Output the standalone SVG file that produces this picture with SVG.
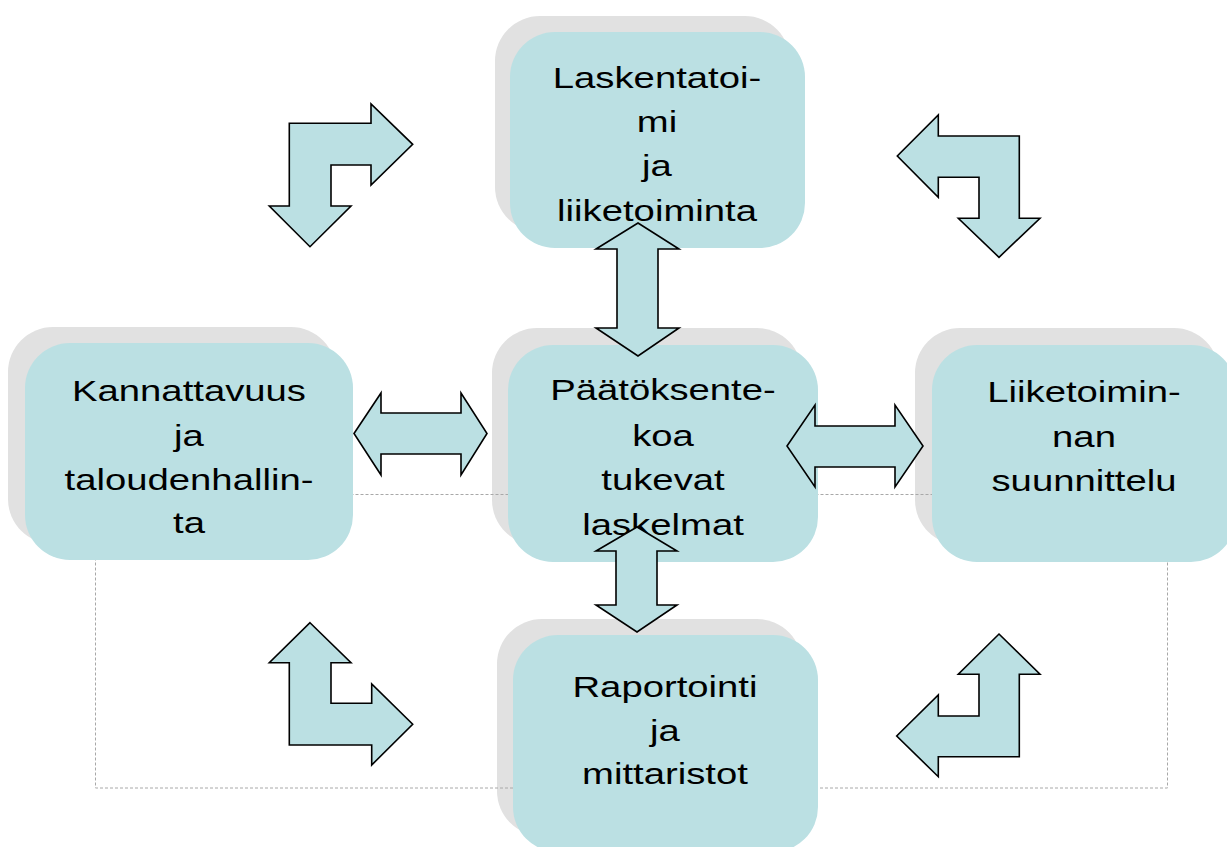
<svg xmlns="http://www.w3.org/2000/svg" width="1227" height="847" viewBox="0 0 1227 847">
  <style>
    .shadow { fill: #e1e1e1; }
    .box { fill: #bbe0e3; }
    .frame { fill: none; stroke: #a8a8a8; stroke-width: 1; stroke-dasharray: 3 2; }
    .arrow { fill: #bbe0e3; stroke: #000000; stroke-width: 1.6; stroke-linejoin: miter; }
    .label { font-family: "Liberation Sans", Arial, sans-serif; font-size: 29px; fill: #000000; text-anchor: middle; }
  </style>

  <rect width="1227" height="847" fill="#ffffff"/>

  <!-- drop shadows behind every box -->
  <g id="shadows">
    <rect class="shadow" x="495" y="16" width="295" height="216" rx="45"/>
    <rect class="shadow" x="8" y="327" width="328" height="217" rx="45"/>
    <rect class="shadow" x="492" y="328" width="310" height="217" rx="45"/>
    <rect class="shadow" x="915" y="328" width="304" height="217" rx="45"/>
    <rect class="shadow" x="497" y="619" width="305" height="217" rx="45"/>
  </g>

  <!-- dotted frame around the lower half -->
  <rect id="frame" class="frame" x="95.5" y="494.5" width="1072" height="293.5"/>

  <g id="node-laskentatoimi">
    <rect class="box" x="510" y="32" width="295" height="216" rx="45"/>
    <g class="label" transform="translate(657,0) scale(1.32,1)">
      <text x="0" y="88">Laskentatoi-</text>
      <text x="0" y="132">mi</text>
      <text x="0" y="176">ja</text>
      <text x="0" y="221">liiketoiminta</text>
    </g>
  </g>

  <g id="node-kannattavuus">
    <rect class="box" x="25" y="343" width="328" height="217" rx="45"/>
    <g class="label" transform="translate(189,0) scale(1.32,1)">
      <text x="0" y="401">Kannattavuus</text>
      <text x="0" y="446">ja</text>
      <text x="0" y="490">taloudenhallin-</text>
      <text x="0" y="533">ta</text>
    </g>
  </g>

  <g id="node-paatoksenteko">
    <rect class="box" x="508" y="345" width="310" height="217" rx="45"/>
    <g class="label" transform="translate(663,0) scale(1.32,1)">
      <text x="0" y="400">Päätöksente-</text>
      <text x="0" y="446">koa</text>
      <text x="0" y="490">tukevat</text>
      <text x="0" y="535">laskelmat</text>
    </g>
  </g>

  <g id="node-suunnittelu">
    <rect class="box" x="932" y="345" width="304" height="217" rx="45"/>
    <g class="label" transform="translate(1084,0) scale(1.32,1)">
      <text x="0" y="402">Liiketoimin-</text>
      <text x="0" y="447">nan</text>
      <text x="0" y="491">suunnittelu</text>
    </g>
  </g>

  <g id="node-raportointi">
    <rect class="box" x="513" y="635" width="305" height="217" rx="45"/>
    <g class="label" transform="translate(665,0) scale(1.32,1)">
      <text x="0" y="697">Raportointi</text>
      <text x="0" y="741">ja</text>
      <text x="0" y="784">mittaristot</text>
    </g>
  </g>

  <!-- block arrows linking the boxes -->
  <g id="connectors">
    <!-- vertical double arrow, top box to centre box -->
    <polygon class="arrow" points="638,223 679,249 658,249 658,328 679,328 638,356 596,328 617,328 617,249 596,249"/>
    <!-- vertical double arrow, centre box to bottom box -->
    <polygon class="arrow" points="637,527 677,551 657,551 657,605 677,605 637,632 596,605 616,605 616,551 596,551"/>
    <!-- horizontal double arrow, left box to centre box -->
    <polygon class="arrow" points="354,433.5 381,393 381,413 461,413 461,393 487,433.5 461,475 461,454 381,454 381,475"/>
    <!-- horizontal double arrow, centre box to right box -->
    <polygon class="arrow" points="787,446 815,405 815,426 895,426 895,405 923,446 895,487 895,467 815,467 815,487"/>
    <!-- bent arrow, upper left -->
    <polygon class="arrow" points="289.3,123.3 371,123.3 371,104 412.7,144.3 371,185 371,165 331,165 331,206 351,206 310,246.7 269.3,206 289.3,206"/>
    <!-- bent arrow, upper right -->
    <polygon class="arrow" points="1019.3,136 938.3,136 938.3,115 897.3,156 938.3,197.3 938.3,177.3 979,177.3 979,218.3 958.3,218.3 999,257.3 1040,218.3 1019.3,218.3"/>
    <!-- bent arrow, lower left -->
    <polygon class="arrow" points="310,622.7 351,662.7 331,662.7 331,703.3 371.7,703.3 371.7,684 412.7,724.3 371.7,765 371.7,745 289.3,745 289.3,662.7 269.3,662.7"/>
    <!-- bent arrow, lower right -->
    <polygon class="arrow" points="999,634 1040,674.3 1019.3,674.3 1019.3,756.7 938.3,756.7 938.3,776.7 896.7,736 938.3,695 938.3,716 979,716 979,674.3 958.3,674.3"/>
  </g>
</svg>
